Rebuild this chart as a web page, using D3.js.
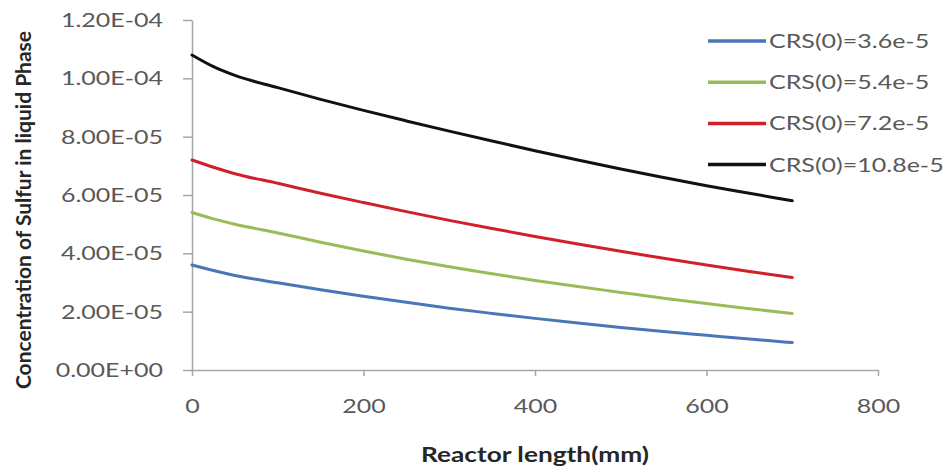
<!DOCTYPE html>
<html><head><meta charset="utf-8">
<script src="https://cdn.jsdelivr.net/npm/d3@7"></script>
<style>body{margin:0;background:#fff}svg{display:block}</style>
</head><body>
<svg id="c" width="948" height="469"></svg>
<script>
const xs   = [0,25,50,100,150,200,250,300,350,400,450,500,550,600,650,700];
const s36  = [3.6,3.41,3.24,2.99,2.75,2.53,2.32,2.12,1.94,1.77,1.61,1.46,1.32,1.19,1.06,0.94];
const s54  = [5.4,5.18,5.0,4.7,4.38,4.08,3.8,3.54,3.3,3.07,2.86,2.66,2.46,2.28,2.1,1.94];
const s72  = [7.2,6.95,6.73,6.4,6.06,5.74,5.43,5.13,4.85,4.58,4.32,4.07,3.83,3.6,3.38,3.17];
const s108 = [10.8,10.4,10.1,9.68,9.28,8.9,8.54,8.19,7.85,7.52,7.2,6.89,6.6,6.32,6.06,5.8];
const seriesNames  = ["CRS(0)=3.6e-5","CRS(0)=5.4e-5","CRS(0)=7.2e-5","CRS(0)=10.8e-5"];
const seriesColors = ["#4A76B8","#9BBB59","#D0202A","#111111"];
const xTicks = [0,200,400,600,800];
const yTicks = [0,2e-5,4e-5,6e-5,8e-5,1e-4,1.2e-4];
const yTickLabels = ["0.00E+00","2.00E-05","4.00E-05","6.00E-05","8.00E-05","1.00E-04","1.20E-04"];

const series = [s36,s54,s72,s108].map((v,i)=>({name:seriesNames[i],color:seriesColors[i],
  pts:xs.map((x,j)=>({x:x,y:v[j]*1e-5}))}));

const svg = d3.select("#c");
const x = d3.scaleLinear().domain([0,800]).range([192,878]);
const y = d3.scaleLinear().domain([0,1.2e-4]).range([370,20]);
const axisColor = "#a6a6a6", textColor = "#595959";
const font = "Lato, 'Open Sans', sans-serif";
const SX = 1.25;
function stretch(sel,f){
  sel.each(function(){
    const L = this.getComputedTextLength();
    d3.select(this).attr("textLength",L*f).attr("lengthAdjust","spacingAndGlyphs");
  });
}

const gx = svg.append("g").attr("transform","translate(0,370)")
  .call(d3.axisBottom(x).tickValues(xTicks).tickSize(6).tickSizeOuter(0).tickPadding(23));
const gy = svg.append("g").attr("transform","translate(192,0)")
  .call(d3.axisLeft(y).tickValues(yTicks).tickSize(9).tickSizeOuter(0).tickPadding(20)
    .tickFormat((d,i)=>yTickLabels[i]));
[gx,gy].forEach(g=>{
  g.selectAll("path,line").attr("stroke",axisColor).attr("stroke-width",1.5);
  g.selectAll("text").attr("fill",textColor).style("font-family",font).style("font-size","20px");
  stretch(g.selectAll("text"),SX);
});
gx.selectAll("text").attr("dy","0.71em");

const line = d3.line().x(d=>x(d.x)).y(d=>y(d.y)).curve(d3.curveMonotoneX);
svg.append("g").selectAll("path").data(series).join("path")
  .attr("d",d=>line(d.pts)).attr("fill","none")
  .attr("stroke",d=>d.color).attr("stroke-width",3).attr("stroke-linecap","round");

const lg = svg.append("g");
series.forEach((s,i)=>{
  const yy = 41 + i*41.2;
  lg.append("line").attr("x1",708).attr("x2",766).attr("y1",yy).attr("y2",yy)
    .attr("stroke",s.color).attr("stroke-width",3.5);
  const t = lg.append("text").attr("x",769).attr("y",yy).attr("dy","0.35em")
    .attr("fill",textColor).style("font-family",font).style("font-size","20px").text(s.name);
  stretch(t,SX);
});

const xt = svg.append("text").attr("x",535).attr("y",455).attr("dy","0.35em").attr("text-anchor","middle")
  .attr("fill","#262626").style("font-family",font).style("font-weight","bold").style("font-size","21px")
  .text("Reactor length(mm)");
stretch(xt,SX);
svg.append("text").attr("transform","translate(24,210) rotate(-90)").attr("text-anchor","middle")
  .attr("dy","0.35em")
  .attr("fill","#262626").style("font-family",font).style("font-weight","bold").style("font-size","21px")
  .text("Concentration of Sulfur in liquid Phase");
</script>
</body></html>
